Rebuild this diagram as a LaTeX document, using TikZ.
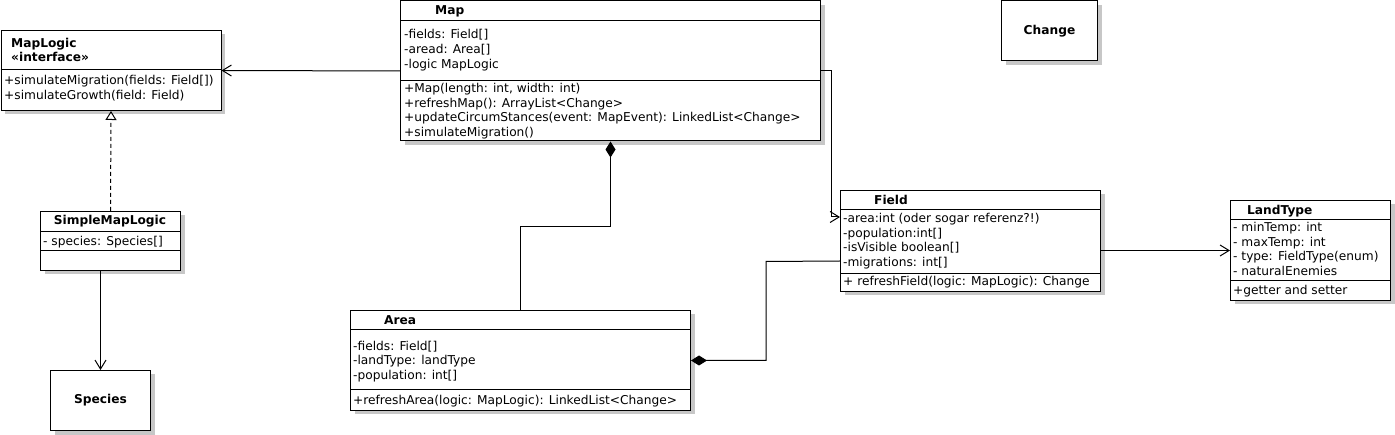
\documentclass[tikz,border=0pt]{standalone}
\usepackage{fontspec}
\setmainfont{DejaVu Sans}
\usetikzlibrary{arrows.meta,shadows}
\begin{document}
\begin{tikzpicture}[x=1pt,y=-1pt,
  cls/.style={draw, fill=white, line width=1pt, inner sep=0pt, anchor=north west,
    drop shadow={shadow xshift=4pt, shadow yshift=-4pt, fill=black!22, opacity=1}},
  txt/.style={anchor=base west, inner sep=0pt, font=\fontsize{12.2}{14}\selectfont},
  ttl/.style={anchor=base west, inner sep=0pt, font=\fontsize{12.2}{14}\selectfont\bfseries},
  sep/.style={line width=1pt},
  conn/.style={line width=1pt},
  assoc/.style={conn, -{Straight Barb[length=9pt,width=11pt,line width=1pt]}},
  real/.style={conn, dash pattern=on 4pt off 3pt, -{Triangle[open, length=9pt, width=11pt, fill=white]}},
  comp/.style={conn, {Diamond[length=16pt,width=10pt]}-}
]
\useasboundingbox (0,0) rectangle (1395,435);

% boxes
\node[cls, minimum width=220pt, minimum height=80pt] (maplogic) at (0.5,30) {};
\node[cls, minimum width=420pt, minimum height=140pt] (map) at (400,0.5) {};
\node[cls, minimum width=96pt, minimum height=60pt, font=\fontsize{12.2}{14}\selectfont\bfseries] (change) at (1001,0.5) {Change};
\node[cls, minimum width=140pt, minimum height=59pt] (simple) at (40,211) {};
\node[cls, minimum width=100pt, minimum height=60pt, font=\fontsize{12.2}{14}\selectfont\bfseries] (species) at (50,370) {Species};
\node[cls, minimum width=260pt, minimum height=101pt] (field) at (840,190) {};
\node[cls, minimum width=160pt, minimum height=100pt] (landtype) at (1230,200) {};
\node[cls, minimum width=340pt, minimum height=100pt] (area) at (350,310) {};

% compartments
\draw[sep] ([yshift=-40pt]maplogic.north west) -- ([yshift=-40pt]maplogic.north east);
\draw[sep] ([yshift=-20pt]map.north west) -- ([yshift=-20pt]map.north east);
\draw[sep] ([yshift=-80pt]map.north west) -- ([yshift=-80pt]map.north east);
\draw[sep] ([yshift=-21pt]simple.north west) -- ([yshift=-21pt]simple.north east);
\draw[sep] ([yshift=-40pt]simple.north west) -- ([yshift=-40pt]simple.north east);
\draw[sep] ([yshift=-20pt]field.north west) -- ([yshift=-20pt]field.north east);
\draw[sep] ([yshift=-84pt]field.north west) -- ([yshift=-84pt]field.north east);
\draw[sep] ([yshift=-20pt]landtype.north west) -- ([yshift=-20pt]landtype.north east);
\draw[sep] ([yshift=-81pt]landtype.north west) -- ([yshift=-81pt]landtype.north east);
\draw[sep] ([yshift=-20pt]area.north west) -- ([yshift=-20pt]area.north east);
\draw[sep] ([yshift=-80pt]area.north west) -- ([yshift=-80pt]area.north east);

% MapLogic
\node[ttl] (mlt1) at (11,47.5) {MapLogic};
\node[ttl] (mlt2) at (11,62) {«interface»};
\node[txt] (mlm1) at (4,85) {+simulateMigration(fields: Field[])};
\node[txt] (mlm2) at (4,100) {+simulateGrowth(field: Field)};

% Map
\node[ttl] (mpt) at (435,15) {Map};
\node[txt] (mpa1) at (404,39) {-fields: Field[]};
\node[txt] (mpa2) at (404,54) {-aread: Area[]};
\node[txt] (mpa3) at (404,68.5) {-logic MapLogic};
\node[txt] (mpm1) at (404,92.7) {+Map(length: int, width: int)};
\node[txt] (mpm2) at (404,107.3) {+refreshMap(): ArrayList<Change>};
\node[txt] (mpm3) at (404,122) {+updateCircumStances(event: MapEvent): LinkedList<Change>};
\node[txt] (mpm4) at (404,136.7) {+simulateMigration()};

% SimpleMapLogic
\node[ttl, anchor=base] (smt) at (110,225) {SimpleMapLogic};
\node[txt] (sma1) at (43,245.7) {- species: Species[]};

% Field
\node[ttl] (fdt) at (874,204.3) {Field};
\node[txt] (fda1) at (843,222.3) {-area:int (oder sogar referenz?!)};
\node[txt] (fda2) at (843,237.3) {-population:int[]};
\node[txt] (fda3) at (843,251.7) {-isVisible boolean[]};
\node[txt] (fda4) at (843,266.7) {-migrations: int[]};
\node[txt] (fdm1) at (843,285.7) {+ refreshField(logic: MapLogic): Change};

% LandType
\node[ttl] (ltt) at (1247,214.3) {LandType};
\node[txt] (lta1) at (1233,231.7) {- minTemp: int};
\node[txt] (lta2) at (1233,246.7) {- maxTemp: int};
\node[txt] (lta3) at (1233,261) {- type: FieldType(enum)};
\node[txt] (lta4) at (1233,276) {- naturalEnemies};
\node[txt] (ltm1) at (1233,295) {+getter and setter};

% Area
\node[ttl] (art) at (384,325) {Area};
\node[txt] (ara1) at (353,350.7) {-fields: Field[]};
\node[txt] (ara2) at (353,364.3) {-landType: landType};
\node[txt] (ara3) at (353,380) {-population: int[]};
\node[txt] (arm1) at (353,405) {+refreshArea(logic: MapLogic): LinkedList<Change>};

% connectors
\draw[assoc] (map.west) -- (maplogic.east);
\draw[assoc] (map.east) -- ++(10,0) |- ([yshift=-27pt]field.north west);
\draw[assoc] (field.east |- landtype.west) -- (landtype.west);
\draw[comp] (area.east) -| ++(75,-99) -- ([yshift=-71pt]field.north west);
\draw[comp] (map.south) -- ++(0,85) -| (area.north);
\draw[real] (simple.north) -- (maplogic.south);
\draw[assoc] (species.north |- simple.south) -- (species.north);
\end{tikzpicture}
\end{document}
